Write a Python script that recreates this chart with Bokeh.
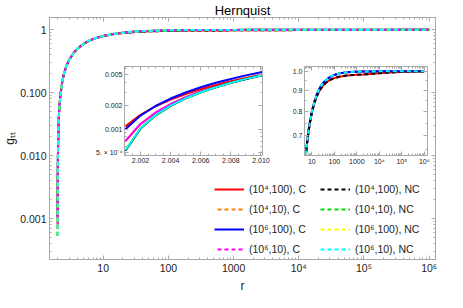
from bokeh.plotting import figure
from bokeh.models import LogAxis, LinearAxis, FixedTicker, Legend, LegendItem, Title
from bokeh.layouts import column
from bokeh.embed import file_html
from bokeh.resources import INLINE

# ---------------- data ----------------
r_near = [2.001, 2.002, 2.003, 2.004, 2.005, 2.006, 2.007, 2.008, 2.009, 2.010, 2.02, 2.05, 2.1]
g_near_104_100_C = [0.00109, 0.00153, 0.00197, 0.00240, 0.00284, 0.00327, 0.00370, 0.00413, 0.00456, 0.00500, 0.00995, 0.0244, 0.0476]
g_near_104_10_C = [0.00070, 0.00116, 0.00163, 0.00210, 0.00257, 0.00304, 0.00351, 0.00398, 0.00445, 0.00491, 0.00990, 0.0244, 0.0476]
g_near_106_100_C = [0.00100, 0.00150, 0.00199, 0.00248, 0.00297, 0.00346, 0.00395, 0.00443, 0.00492, 0.00540, 0.0103, 0.0248, 0.0479]
g_near_106_10_C = [0.00071, 0.00117, 0.00164, 0.00211, 0.00258, 0.00305, 0.00352, 0.00399, 0.00446, 0.00492, 0.00990, 0.0244, 0.0476]
g_near_104_100_NC = [0.00053, 0.00102, 0.00151, 0.00200, 0.00249, 0.00298, 0.00346, 0.00395, 0.00443, 0.00489, 0.00990, 0.0244, 0.0476]
g_near_104_10_NC = [0.00053, 0.00102, 0.00151, 0.00200, 0.00249, 0.00298, 0.00346, 0.00395, 0.00443, 0.00489, 0.00990, 0.0244, 0.0476]
g_near_106_100_NC = [0.00054, 0.00103, 0.00152, 0.00201, 0.00250, 0.00299, 0.00347, 0.00396, 0.00444, 0.00490, 0.00990, 0.0244, 0.0476]
g_near_106_10_NC = [0.00054, 0.00103, 0.00152, 0.00201, 0.00250, 0.00299, 0.00347, 0.00396, 0.00444, 0.00490, 0.00990, 0.0244, 0.0476]

r_far = [2.2, 2.35, 2.5, 2.75, 3, 3.5, 4, 5, 6, 7, 8, 10, 13, 16, 20, 25, 32, 40, 50, 65,
         80, 100, 150, 200, 300, 500, 700, 1000, 2000, 3000, 5000, 1e4, 2e4, 5e4, 1e5, 2e5, 5e5, 1e6]
g_far_upper = [0.0909, 0.149, 0.200, 0.273, 0.333, 0.429, 0.500, 0.600, 0.667, 0.714, 0.750, 0.800, 0.846,
               0.875, 0.900, 0.920, 0.9375, 0.950, 0.960, 0.969, 0.975, 0.980, 0.9867, 0.990, 0.9933, 0.996,
               0.9971, 0.998, 0.999, 0.9993, 0.9996, 0.9998, 0.9999, 1.0, 1.0, 1.0, 1.0, 1.0]
g_far_lower = [0.0909, 0.149, 0.200, 0.273, 0.333, 0.428, 0.499, 0.599, 0.665, 0.711, 0.746, 0.795, 0.839,
               0.867, 0.890, 0.908, 0.9245, 0.936, 0.945, 0.953, 0.9585, 0.963, 0.9692, 0.9722, 0.9753, 0.978,
               0.9796, 0.981, 0.983, 0.9843, 0.9866, 0.9898, 0.9919, 0.995, 0.996, 0.9975, 0.9988, 0.9995]

labels = ["(10⁴,100), C", "(10⁴,10), C", "(10⁶,100), C", "(10⁶,10), C",
          "(10⁴,100), NC", "(10⁴,10), NC", "(10⁶,100), NC", "(10⁶,10), NC"]
near_values = [g_near_104_100_C, g_near_104_10_C, g_near_106_100_C, g_near_106_10_C,
               g_near_104_100_NC, g_near_104_10_NC, g_near_106_100_NC, g_near_106_10_NC]
far_values = [g_far_lower, g_far_upper, g_far_upper, g_far_upper,
              g_far_lower, g_far_upper, g_far_upper, g_far_upper]

main_x_ticks = [10, 100, 1000, 1e4, 1e5, 1e6]
main_x_labels = ["10", "100", "1000", "10⁴", "10⁵", "10⁶"]
main_y_ticks = [0.001, 0.01, 0.1, 1]
main_y_labels = ["0.001", "0.010", "0.100", "1"]
left_x_ticks = [2.002, 2.004, 2.006, 2.008, 2.010]
left_x_labels = ["2.002", "2.004", "2.006", "2.008", "2.010"]
left_y_ticks = [5e-4, 1e-3, 2e-3, 5e-3]
left_y_labels = ["5. × 10⁻⁴", "0.001", "0.002", "0.005"]
right_x_ticks = [10, 100, 1000, 1e4, 1e5, 1e6]
right_x_labels = ["10", "100", "1000", "10⁴", "10⁵", "10⁶"]
right_y_ticks = [0.7, 0.8, 0.9, 1.0]
right_y_labels = ["0.7", "0.8", "0.9", "1.0"]

# ---------------- styles ----------------
colors = ["#ff0000", "#ff8000", "#0000ff", "#ff00ff", "#000000", "#00dd00", "#ffff00", "#00ffff"]
dashes = ["solid", "4 3", "solid", "4 3", "4 3", "4 3", "4 3", "4 3"]
dash_offsets = [0, 4, 0, 4, 0, 0, 0, 0]
main_order = [0, 1, 2, 3, 4, 5, 6, 7]
inset_order = [5, 6, 1, 3, 0, 2, 4, 7]
FONT = "Liberation Sans"
FRAME = "#a8a8a8"
TXT = "#222222"

def log_minors(d0, d1):
    return [m * 10.0 ** d for d in range(d0, d1) for m in range(2, 10)]

def style_axis(ax, fs, show_labels=True):
    ax.axis_line_color = FRAME
    ax.major_tick_line_color = FRAME
    ax.minor_tick_line_color = FRAME
    ax.major_tick_in = 4
    ax.major_tick_out = 0
    ax.minor_tick_in = 2
    ax.minor_tick_out = 0
    ax.major_label_text_font = FONT
    ax.major_label_text_color = TXT
    ax.major_label_text_font_size = fs
    if show_labels:
        ax.major_label_standoff = 2
    else:
        ax.major_label_standoff = 0
        ax.major_label_text_alpha = 0

def frame(fig, xlog, ylog, xt, xl, yt, yl, xminor, yminor, fs):
    xtick = FixedTicker(ticks=xt, minor_ticks=xminor)
    ytick = FixedTicker(ticks=yt, minor_ticks=yminor)
    bottom = fig.below[0]
    left = fig.left[0]
    bottom.ticker = xtick
    left.ticker = ytick
    bottom.major_label_overrides = dict(zip(xt, xl))
    left.major_label_overrides = dict(zip(yt, yl))
    style_axis(bottom, fs)
    style_axis(left, fs)
    top = (LogAxis if xlog else LinearAxis)(ticker=xtick)
    right = (LogAxis if ylog else LinearAxis)(ticker=ytick)
    top.major_label_overrides = {t: " " for t in xt}
    right.major_label_overrides = {t: " " for t in yt}
    style_axis(top, "1px", False)
    style_axis(right, "1px", False)
    fig.add_layout(top, "above")
    fig.add_layout(right, "right")
    fig.grid.visible = False
    fig.outline_line_color = FRAME
    return bottom, left

def draw(fig, width, order):
    rends = {}
    for i in order:
        xs = r_near + r_far
        ys = near_values[i] + far_values[i]
        rends[i] = fig.line(xs, ys, line_color=colors[i], line_width=width,
                            line_dash=dashes[i], line_dash_offset=dash_offsets[i])
    return rends

# ---------------- main plot ----------------
p = figure(width=447, height=292, x_axis_type="log", y_axis_type="log",
           x_range=(1.5, 1.25e6), y_range=(2.24e-4, 1.57),
           output_backend="svg", toolbar_location=None,
           min_border_left=41, min_border_right=2, min_border_top=12, min_border_bottom=28)
p.title.text = "Hernquist"
p.title.align = "center"
p.title.text_font = FONT
p.title.text_font_size = "13px"
p.title.text_font_style = "normal"
p.title.text_color = "#000000"
p.title.standoff = 0
xb, yl_ax = frame(p, True, True, main_x_ticks, main_x_labels, main_y_ticks, main_y_labels,
                  log_minors(0, 7), log_minors(-4, 1), "10.5px")
yl_ax.major_label_standoff = 3
yl_ax.axis_label = "gₜₜ"
yl_ax.axis_label_text_font = FONT
yl_ax.axis_label_text_font_size = "12px"
yl_ax.axis_label_text_font_style = "normal"
yl_ax.axis_label_text_color = TXT
yl_ax.axis_label_standoff = 0
xlab = Title(text="r", align="center", text_font=FONT, text_font_size="12px",
             text_font_style="normal", text_color=TXT, standoff=0, offset=0)
p.add_layout(xlab, "below")
rends = draw(p, 2, main_order)

leg = Legend(items=[LegendItem(label=labels[i], renderers=[rends[i]]) for i in range(8)],
             location=(165, 0), nrows=4)
leg.glyph_width = 30
leg.glyph_height = 20
leg.label_height = 20
leg.label_width = 71
leg.spacing = 0
leg.padding = 0
leg.margin = 0
leg.label_standoff = 5
leg.label_text_font = FONT
leg.label_text_font_size = "10.5px"
leg.label_text_color = TXT
leg.border_line_alpha = 0
leg.background_fill_alpha = 0
p.add_layout(leg)

# ---------------- left inset ----------------
a = figure(width=199, height=121, y_axis_type="log",
           x_range=(2.00094, 2.0101), y_range=(4.6e-4, 6.4e-3),
           output_backend="svg", toolbar_location=None,
           min_border_left=40, min_border_right=12, min_border_top=10, min_border_bottom=22)
frame(a, False, True, left_x_ticks, left_x_labels, left_y_ticks, left_y_labels,
      [2.001 + 0.0005 * k for k in range(20)], [6e-4, 7e-4, 8e-4, 9e-4, 3e-3, 4e-3, 6e-3], "7px")
draw(a, 2, inset_order)
a.border_fill_alpha = 0
a.styles = {"position": "absolute", "left": "75px", "top": "56px"}

# ---------------- right inset ----------------
b = figure(width=184, height=121, x_axis_type="log", y_axis_type="log",
           x_range=(4.7, 1.4e6), y_range=(0.627, 1.027),
           output_backend="svg", toolbar_location=None,
           min_border_left=24, min_border_right=12, min_border_top=10, min_border_bottom=22)
frame(b, True, True, right_x_ticks, right_x_labels, right_y_ticks, right_y_labels,
      log_minors(0, 7), [0.65, 0.75, 0.85, 0.95], "7px")
draw(b, 2, inset_order)
b.border_fill_alpha = 0
b.styles = {"position": "absolute", "left": "255px", "top": "56px"}

layout = column(p, a, b)
open("out.html", "w").write(file_html(layout, INLINE))
